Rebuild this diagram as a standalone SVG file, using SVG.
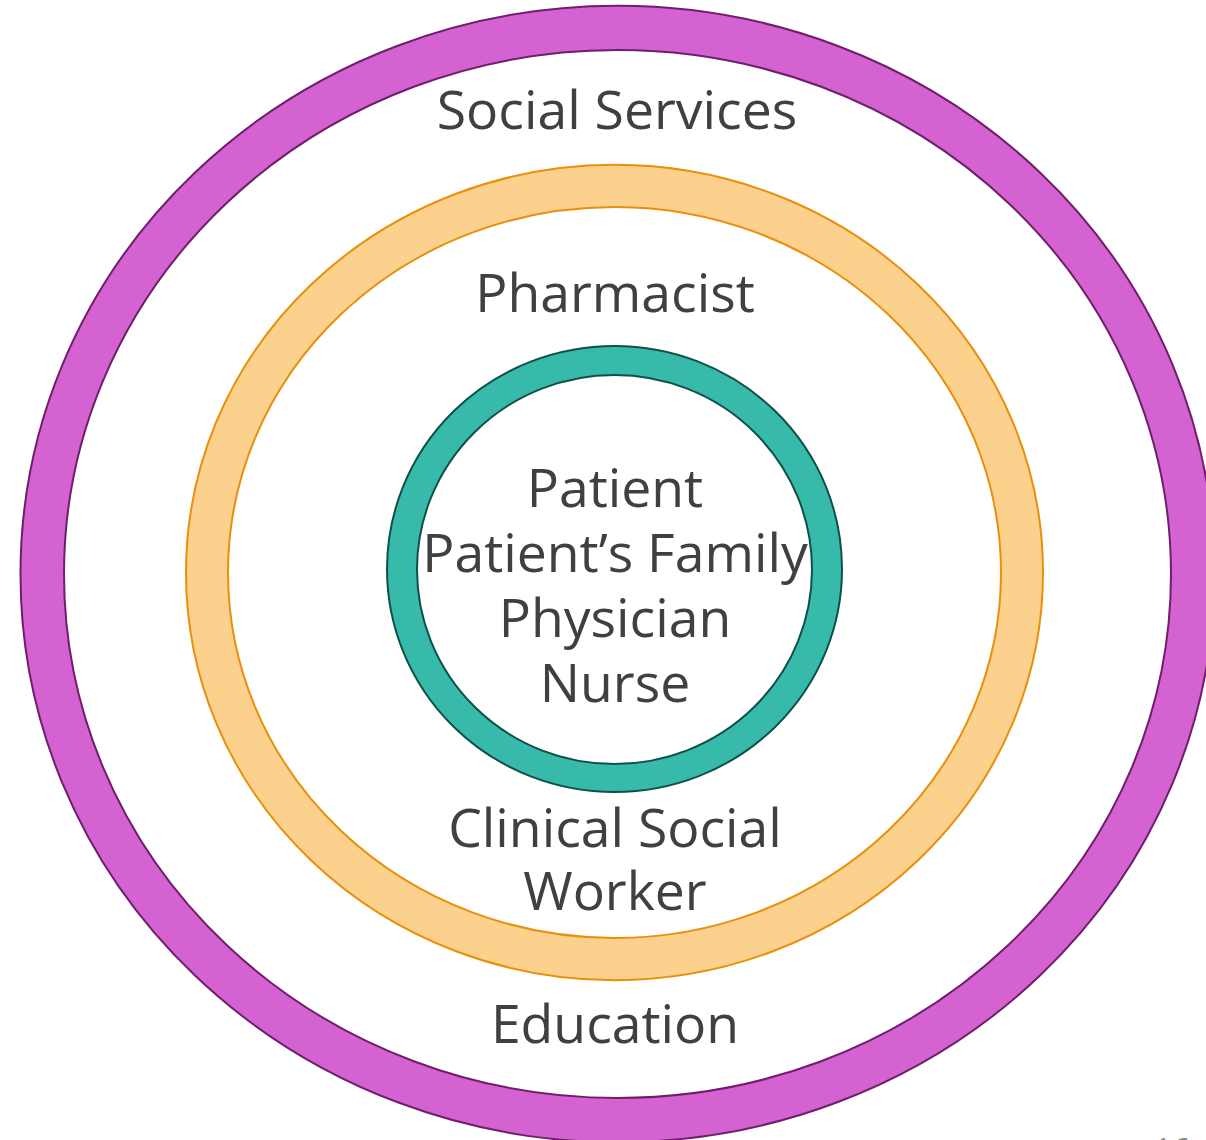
<svg xmlns="http://www.w3.org/2000/svg" width="1206" height="1140" viewBox="0 0 1206 1140">
<style>
.lbl{font-family:"Open Sans","Noto Sans","Liberation Sans",sans-serif;font-size:53.5px;fill:#404040;text-anchor:middle}
.ring{fill-rule:evenodd;stroke-width:2}
.purple{fill:#D462D0;stroke:#6E1F6C}
.orange{fill:#FCD08D;stroke:#E8900C}
.teal{fill:#38BAAA;stroke:#0F5149}
</style>
<rect width="1206" height="1140" fill="#FFFFFF"/>
<g id="ring-social">
<path class="ring purple" d="M20.5,574a597,568 0 1,0 1194,0a597,568 0 1,0 -1194,0Z M64,574a553.5,524 0 1,1 1107,0a553.5,524 0 1,1 -1107,0Z"/>
<text class="lbl" x="617" y="129">Social Services</text>
<text class="lbl" x="615" y="1043">Education</text>
</g>
<g id="ring-care">
<path class="ring orange" d="M186,572.5a428.5,407.5 0 1,0 857,0a428.5,407.5 0 1,0 -857,0Z M228,572.5a386.5,365.5 0 1,1 773,0a386.5,365.5 0 1,1 -773,0Z"/>
<text class="lbl" x="615" y="312">Pharmacist</text>
<text class="lbl" x="615" y="847">Clinical Social</text>
<text class="lbl" x="615" y="910">Worker</text>
</g>
<g id="ring-core">
<path class="ring teal" d="M387,569a227.5,223 0 1,0 455,0a227.5,223 0 1,0 -455,0Z M417,569.5a197.5,194.5 0 1,1 395,0a197.5,194.5 0 1,1 -395,0Z"/>
<text class="lbl" x="615" y="507">Patient</text>
<text class="lbl" x="615" y="572">Patient’s Family</text>
<text class="lbl" x="615" y="637">Physician</text>
<text class="lbl" x="615" y="702">Nurse</text>
</g>
<g id="connectors"></g>
<text x="1172" y="1162" font-family="'Open Sans','Liberation Sans',sans-serif" font-size="32" fill="#8C8C8C" text-anchor="middle">16</text>
</svg>
